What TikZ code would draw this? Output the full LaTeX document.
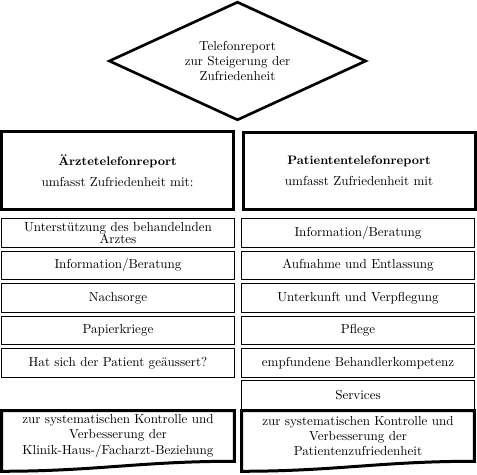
\documentclass[tikz,border=0pt]{standalone}
\usetikzlibrary{shapes.geometric}
\begin{document}
\begin{tikzpicture}[x=0.75pt,y=-0.75pt,
every node/.style={font=\fontsize{9.8}{11.5}\selectfont},
head/.style={draw,line width=2.25pt,align=center,minimum width=174pt,minimum height=58pt},
item/.style={draw,line width=0.8pt,align=center,minimum width=175pt,minimum height=21.5pt,inner ysep=0pt},
goal/.style={align=center,minimum width=174pt,minimum height=37.5pt,inner sep=0pt},
docline/.style={line width=2.25pt}]
\useasboundingbox (0,0) rectangle (477,474);
\node[draw,diamond,shape aspect=2.2,line width=2pt,minimum width=193pt,minimum height=89pt,inner sep=0pt,align=center] (tel) at (237.5,61)
{Telefonreport\\zur Steigerung der\\Zufriedenheit};
\node[head] (arzt) at (117.5,170.5) {{\fontsize{9.2}{10}\selectfont\bfseries Ärztetelefonreport}\\[4pt]umfasst Zufriedenheit mit:};
\node[head] (pat) at (359,171) {{\fontsize{9.2}{10}\selectfont\bfseries Patiententelefonreport}\\[4pt]umfasst Zufriedenheit mit};
% Aerzte
\node[item] (a1) at (118,233) {Unterstützung des behandelnden\\[-2.5pt]Arztes};
\node[item] (a2) at (118,265.5) {Information/Beratung};
\node[item] (a3) at (118,298) {Nachsorge};
\node[item] (a4) at (118,330.5) {Papierkriege};
\node[item] (a5) at (118,363) {Hat sich der Patient geäussert?};
% Patienten
\node[item] (p1) at (358,233) {Information/Beratung};
\node[item] (p2) at (358,265.5) {Aufnahme und Entlassung};
\node[item] (p3) at (358,298) {Unterkunft und Verpflegung};
\node[item] (p4) at (358,330.5) {Pflege};
\node[item] (p5) at (358,363) {empfundene Behandlerkompetenz};
\node[item] (p6) at (358,395) {Services};
% Ziele
\node[goal] (lgoal) at (118,436) {zur systematischen Kontrolle und\\Verbesserung der\\Klinik-Haus-/Facharzt-Beziehung};
\node[goal] (rgoal) at (358,436) {zur systematischen Kontrolle und\\Verbesserung der\\Patientenzufriedenheit};
\draw[docline] (lgoal.south east) -- (lgoal.north east) -- (lgoal.north west) -- ([yshift=-7.5pt]lgoal.south west)
  .. controls ([xshift=70pt,yshift=-7.5pt]lgoal.south west) and ([xshift=-70pt]lgoal.south east) .. (lgoal.south east) -- cycle;
\draw[docline] (rgoal.south east) -- (rgoal.north east) -- (rgoal.north west) -- ([yshift=-7.5pt]rgoal.south west)
  .. controls ([xshift=70pt,yshift=-7.5pt]rgoal.south west) and ([xshift=-70pt]rgoal.south east) .. (rgoal.south east) -- cycle;
\end{tikzpicture}
\end{document}
